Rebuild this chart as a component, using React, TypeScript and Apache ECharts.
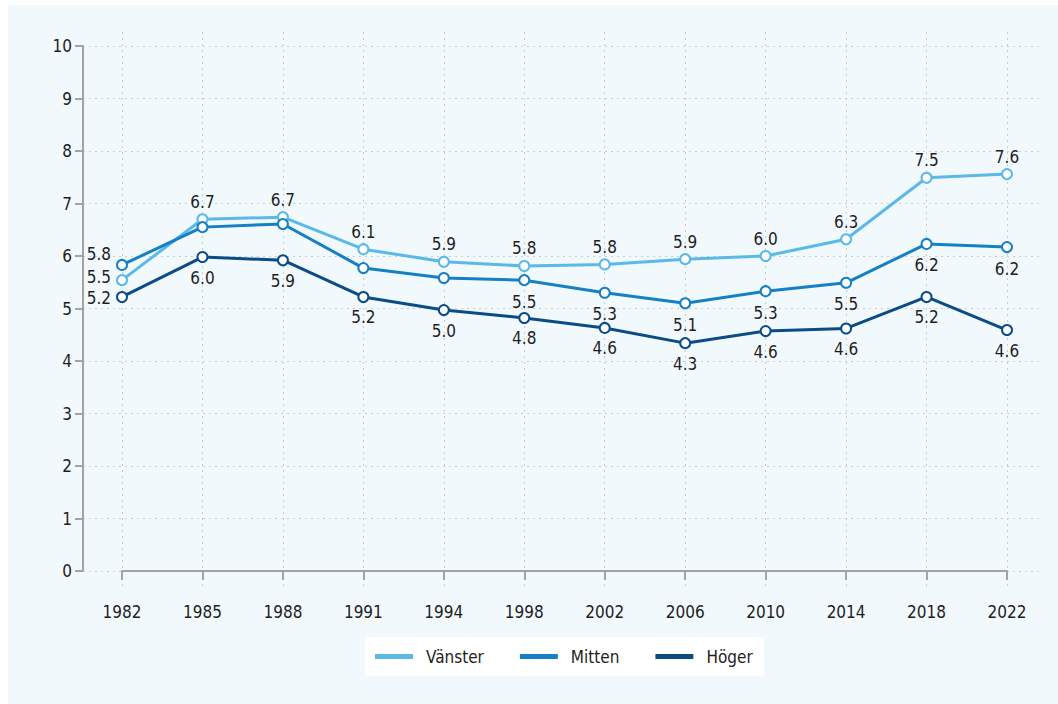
import React, { useEffect, useRef } from "react";
import * as echarts from "echarts";

const years = ["1982", "1985", "1988", "1991", "1994", "1998", "2002", "2006", "2010", "2014", "2018", "2022"];
const vanster = [5.54, 6.7, 6.74, 6.13, 5.89, 5.81, 5.84, 5.94, 6.0, 6.32, 7.49, 7.56];
const mitten = [5.83, 6.55, 6.61, 5.77, 5.58, 5.54, 5.3, 5.1, 5.33, 5.49, 6.23, 6.17];
const hoger = [5.22, 5.98, 5.92, 5.22, 4.97, 4.82, 4.63, 4.34, 4.57, 4.62, 5.22, 4.59];
const mittenLabelShown = [true, false, false, false, false, true, true, true, true, true, true, true];
const yTicks = [0, 10];

const FONT = "'Liberation Sans Narrow', 'DejaVu Sans Condensed', 'Roboto Condensed', Roboto, sans-serif";
const C_V = "#5ab9e9";
const C_M = "#1580c3";
const C_H = "#0b4c86";
const TXT = "#1e1e1e";
const AX = "#a3a3a3";
const GRID = "#c9cdd0";

const PX_PER_UNIT = 52.5;

function buildData(values: number[], mode: "top" | "bottom" | "mitten", firstOffset: number[]) {
  return values.map((v, i) => {
    const item: any = { value: v };
    if (i === 0) {
      item.label = { show: true, position: "left", distance: 5, offset: firstOffset, lineHeight: 16 };
    } else if (mode === "mitten") {
      item.label = { show: mittenLabelShown[i], position: "bottom", distance: 7 };
    } else {
      item.label = { show: true, position: mode, distance: mode === "top" ? 3 : 6 };
    }
    return item;
  });
}

export default function App() {
  const ref = useRef<HTMLDivElement>(null);
  useEffect(() => {
    if (!ref.current) return;
    const chart = echarts.init(ref.current, undefined, { renderer: "svg" });
    const labelStyle = {
      color: TXT,
      fontFamily: FONT,
      fontSize: 17,
      formatter: (p: any) => Number(p.value).toFixed(1),
    };
    const mkSeries = (name: string, color: string, data: any[]) => ({
      name,
      type: "line",
      xAxisIndex: 1,
      yAxisIndex: 1,
      data,
      symbol: "emptyCircle",
      symbolSize: 10,
      lineStyle: { color, width: 3 },
      itemStyle: { color, borderColor: color, borderWidth: 2 },
      label: labelStyle,
      z: 5,
    });
    chart.setOption({
      animation: false,
      backgroundColor: "#ffffff",
      graphic: [
        {
          type: "rect",
          shape: { x: 8, y: 5, width: 1050, height: 699 },
          style: { fill: "#f2f9fd" },
          z: -10,
          silent: true,
        },
      ],
      legend: {
        left: 365,
        top: 637,
        backgroundColor: "#ffffff",
        padding: [11, 11, 11, 10],
        itemWidth: 36,
        itemHeight: 3,
        itemGap: 36,
        icon: "rect",
        textStyle: { color: TXT, fontFamily: FONT, fontSize: 17, padding: [0, 0, 0, 9] },
        data: ["Vänster", "Mitten", "Höger"],
      },
      grid: [
        { left: 83, right: 16, top: 46, height: 525, containLabel: false },
        { left: 122, right: 51, top: 32, bottom: 118, containLabel: false },
      ],
      xAxis: [
        { type: "value", gridIndex: 0, min: 0, max: 1, show: false },
        {
          type: "category",
          gridIndex: 1,
          data: years,
          boundaryGap: false,
          axisLine: { show: true, lineStyle: { color: AX, width: 2 } },
          axisTick: { show: true, length: 9, alignWithLabel: true, lineStyle: { color: AX, width: 2 } },
          axisLabel: { color: TXT, fontFamily: FONT, fontSize: 17, margin: 17, interval: 0 },
          splitLine: { show: true, interval: 0, lineStyle: { color: GRID, type: [2, 4], width: 1 } },
        },
      ],
      yAxis: [
        {
          type: "value",
          gridIndex: 0,
          min: yTicks[0],
          max: yTicks[1],
          interval: 1,
          offset: 5,
          axisLine: { show: true, lineStyle: { color: AX, width: 2 } },
          axisTick: { show: true, length: 8, lineStyle: { color: AX, width: 2 } },
          axisLabel: { color: TXT, fontFamily: FONT, fontSize: 17, margin: 6 },
          splitLine: { show: true, lineStyle: { color: GRID, type: [2, 4], width: 1 } },
        },
        {
          type: "value",
          gridIndex: 1,
          min: yTicks[0] - 15 / PX_PER_UNIT,
          max: yTicks[1] + 14 / PX_PER_UNIT,
          show: false,
          splitLine: { show: false },
        },
      ],
      series: [
        mkSeries("Vänster", C_V, buildData(vanster, "top", [0, -3])),
        mkSeries("Mitten", C_M, buildData(mitten, "mitten", [0, -11])),
        mkSeries("Höger", C_H, buildData(hoger, "bottom", [0, 1])),
      ],
    });
    return () => chart.dispose();
  }, []);
  return <div ref={ref} style={{ position: "absolute", left: 0, top: 0, width: 1058, height: 704 }} />;
}
